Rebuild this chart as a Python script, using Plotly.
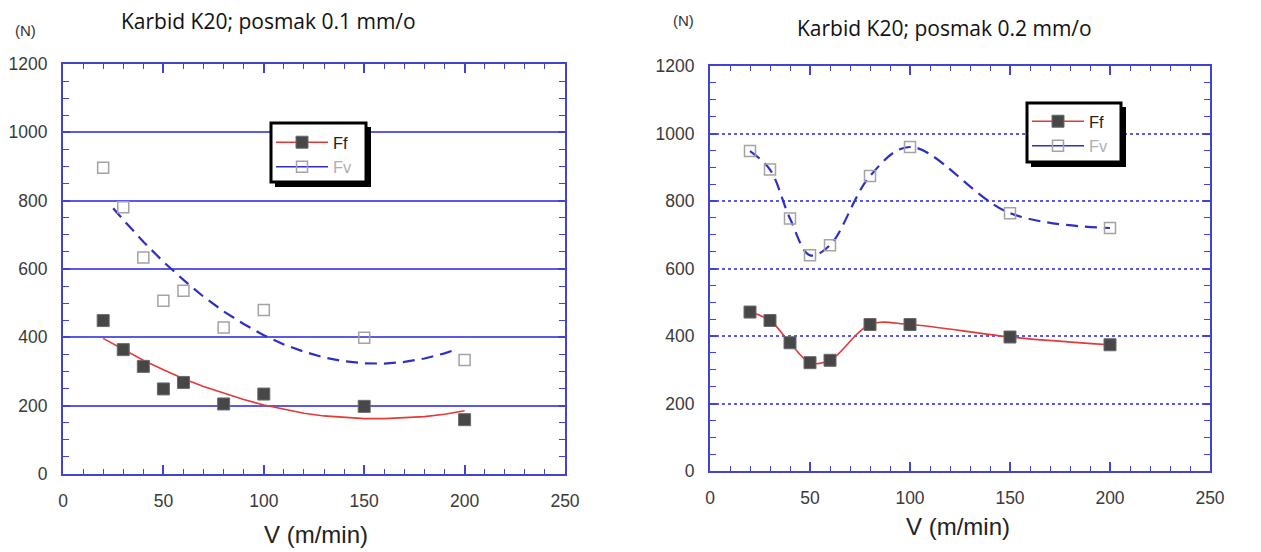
import plotly.graph_objects as go

W, H = 1261, 552          # browser window
OFF = 8                   # page body margin
FW, FH = W - OFF, H - OFF

# ---------------- data ----------------
# Left panel: Karbid K20, feed 0.1 mm/rev
v_left = [20, 30, 40, 50, 60, 80, 100, 150, 200]
ff_left = [449, 364, 315, 249, 268, 205, 234, 198, 159]
fv_left = [896, 781, 634, 507, 536, 429, 480, 399, 334]

# fitted trend curves drawn in the left panel
v_fit_ff = [20, 30, 40, 50, 60, 70, 80, 90, 100, 110, 120, 130, 140, 150, 160, 170, 180, 190, 200]
ff_fit = [397, 364, 333, 305, 279, 256, 236, 218, 202, 189, 178, 170, 165, 162, 162, 164, 168, 175, 185]
v_fit_fv = [25, 30, 40, 50, 60, 70, 80, 90, 100, 110, 120, 130, 140, 150, 160, 170, 180, 190, 195]
fv_fit = [778, 744, 680, 621, 568, 519, 476, 439, 406, 379, 358, 341, 330, 324, 323, 328, 338, 353, 363]

# Right panel: Karbid K20, feed 0.2 mm/rev
v_right = [20, 30, 40, 50, 60, 80, 100, 150, 200]
ff_right = [471, 446, 380, 321, 328, 434, 434, 397, 374]
fv_right = [948, 893, 748, 639, 669, 874, 960, 764, 720]

titles = ["Karbid K20; posmak 0.1 mm/o", "Karbid K20; posmak 0.2 mm/o"]
x_title = "V (m/min)"
y_unit = "(N)"
series_names = ["Ff", "Fv"]

# ---------------- styles ----------------
AX = "#4343cf"
GRID = "#5a5ae6"
RED = "#e23a3a"
BLUE = "#2f2fc4"
DARK = "#474747"
GREY = "#a3a3a3"
TICKFONT = dict(family="Liberation Sans, Arial", size=17.5, color="#3a3a3a")


def px(x):
    return (x - OFF) / FW


def py(y):
    return 1 - (y - OFF) / FH


fig = go.Figure()

ff_marker = dict(symbol="square", size=12, color=DARK, line=dict(color="#6a6a6a", width=1))
fv_marker = dict(symbol="square-open", size=11, color=GREY, line=dict(width=1.5))
ff_name = "<span style='color:#222'>%s</span>" % series_names[0]
fv_name = "<span style='color:#b0b0b0'>%s</span>" % series_names[1]

# ---- left panel ----
fig.add_trace(go.Scatter(x=v_fit_ff, y=ff_fit, mode="lines", line=dict(color=RED, width=1.6),
                         showlegend=False, xaxis="x", yaxis="y", hoverinfo="skip"))
fig.add_trace(go.Scatter(x=v_fit_fv, y=fv_fit, mode="lines", line=dict(color=BLUE, width=2.2, dash="12px,7px"),
                         showlegend=False, xaxis="x", yaxis="y", hoverinfo="skip"))
fig.add_trace(go.Scatter(x=v_left, y=ff_left, mode="markers", marker=ff_marker,
                         showlegend=False, xaxis="x", yaxis="y"))
fig.add_trace(go.Scatter(x=v_left, y=fv_left, mode="markers", marker=fv_marker,
                         showlegend=False, xaxis="x", yaxis="y"))

# ---- right panel ----
fig.add_trace(go.Scatter(x=v_right, y=ff_right, mode="lines+markers", name=series_names[0],
                         line=dict(color=RED, width=1.6, shape="spline", smoothing=1.0),
                         marker=ff_marker, xaxis="x2", yaxis="y2", showlegend=False))
fig.add_trace(go.Scatter(x=v_right, y=fv_right, mode="lines+markers", name=series_names[1],
                         line=dict(color=BLUE, width=2.2, dash="12px,7px", shape="spline", smoothing=1.0),
                         marker=fv_marker, xaxis="x2", yaxis="y2", showlegend=False))

# ---- legend entries (solid line samples, as in the original legends) ----
for lg, xa, ya in [("legend", "x", "y"), ("legend2", "x2", "y2")]:
    fig.add_trace(go.Scatter(x=[None], y=[None], mode="lines+markers", name=ff_name,
                             line=dict(color=RED, width=1.6), marker=ff_marker,
                             xaxis=xa, yaxis=ya, legend=lg))
    fig.add_trace(go.Scatter(x=[None], y=[None], mode="lines+markers", name=fv_name,
                             line=dict(color=BLUE, width=1.6), marker=fv_marker,
                             xaxis=xa, yaxis=ya, legend=lg))

# ---------------- axes ----------------
L = dict(x0=63, x1=565, y0=64, y1=474)
R = dict(x0=710, x1=1210, y0=66, y1=471)


def xaxis(d, anchor):
    return dict(domain=[px(d["x0"]), px(d["x1"])], anchor=anchor, range=[0, 250], automargin=False,
                tickmode="linear", tick0=0, dtick=50, ticks="inside", ticklen=9, tickwidth=1.5,
                tickcolor=AX, showline=True, linecolor=AX, linewidth=2, mirror="ticks",
                showgrid=False, zeroline=False, tickfont=TICKFONT, ticklabelstandoff=10,
                minor=dict(dtick=10, ticks="inside", ticklen=5, tickwidth=1.2, tickcolor=AX, showgrid=False),
                fixedrange=True)


def yaxis(d, anchor, griddash):
    return dict(domain=[py(d["y1"]), py(d["y0"])], anchor=anchor, range=[0, 1200], automargin=False,
                tickmode="linear", tick0=0, dtick=200, ticks="inside", ticklen=7, tickwidth=1.5,
                tickcolor=AX, showline=True, linecolor=AX, linewidth=2, mirror="ticks",
                showgrid=True, gridcolor=GRID, gridwidth=2, griddash=griddash, zeroline=False,
                tickfont=TICKFONT, ticklabelstandoff=10,
                minor=dict(dtick=50, ticks="inside", ticklen=6, tickwidth=1.2, tickcolor=AX, showgrid=False),
                fixedrange=True)


legend_common = dict(bgcolor="rgba(0,0,0,0)", borderwidth=0, xanchor="left", yanchor="top",
                     font=dict(family="Liberation Sans, Arial", size=16.5, color="#222"),
                     itemwidth=52, tracegroupgap=0, traceorder="normal")

fig.update_layout(
    width=FW, height=FH, autosize=False,
    margin=dict(l=0, r=0, t=0, b=0, pad=0, autoexpand=False),
    paper_bgcolor="white", plot_bgcolor="white",
    xaxis=xaxis(L, "y"), yaxis=yaxis(L, "x", "solid"),
    xaxis2=xaxis(R, "y2"), yaxis2=yaxis(R, "x2", "dot"),
    legend=dict(x=px(271), y=py(125), **legend_common),
    legend2=dict(x=px(1027), y=py(104), **legend_common),
    showlegend=True,
)

# legend boxes with drop shadow
shapes = []
for (x0, y0, x1, y1) in [(271, 123, 366, 182), (1027, 103, 1121, 162)]:
    shapes.append(dict(type="rect", xref="paper", yref="paper", x0=px(x0 + 4), x1=px(x1 + 5),
                       y0=py(y1 + 5), y1=py(y0 + 4), fillcolor="black", line=dict(width=0), layer="above"))
    shapes.append(dict(type="rect", xref="paper", yref="paper", x0=px(x0), x1=px(x1),
                       y0=py(y1), y1=py(y0), fillcolor="white", line=dict(color="black", width=3), layer="above"))
fig.update_layout(shapes=shapes)

ann = []
ann.append(dict(text=titles[0], x=px(268), y=py(21), xref="paper", yref="paper", showarrow=False,
                font=dict(family="Open Sans", size=21, color="#111"), xanchor="center", yanchor="middle"))
ann.append(dict(text=titles[1], x=px(944), y=py(28), xref="paper", yref="paper", showarrow=False,
                font=dict(family="Open Sans", size=21, color="#111"), xanchor="center", yanchor="middle"))
ann.append(dict(text=y_unit, x=px(25), y=py(31), xref="paper", yref="paper", showarrow=False,
                font=dict(family="Liberation Sans, Arial", size=15, color="#333"), xanchor="center", yanchor="middle"))
ann.append(dict(text=y_unit, x=px(683), y=py(20), xref="paper", yref="paper", showarrow=False,
                font=dict(family="Liberation Sans, Arial", size=15, color="#333"), xanchor="center", yanchor="middle"))
ann.append(dict(text=x_title, x=px(316), y=py(534), xref="paper", yref="paper", showarrow=False,
                font=dict(family="Liberation Sans, Arial", size=24, color="#222"), xanchor="center", yanchor="middle"))
ann.append(dict(text=x_title, x=px(958), y=py(526), xref="paper", yref="paper", showarrow=False,
                font=dict(family="Liberation Sans, Arial", size=24, color="#222"), xanchor="center", yanchor="middle"))
fig.update_layout(annotations=ann)

fig.write_html("out.html")
